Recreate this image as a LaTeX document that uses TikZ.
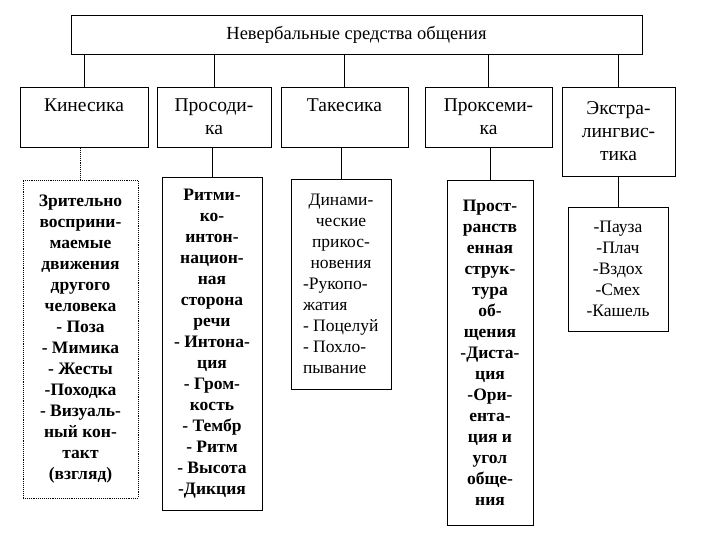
\documentclass[tikz,border=0pt]{standalone}
\usepackage{fontspec}
\setmainfont{Liberation Serif}

\begin{document}
\begin{tikzpicture}[x=1pt,y=-1pt,line width=0.9pt,
  box/.style={draw,inner sep=0pt,align=center},
  head/.style={box,font=\fontsize{19.5}{23}\selectfont},
  desc/.style={box,font=\bfseries\fontsize{17.5}{21}\selectfont}]
\useasboundingbox (0,0) rectangle (720,540);
% ---------- title ----------
\node[box,minimum width=571,minimum height=39,font=\fontsize{18.5}{21}\selectfont]
  (top) at (356.5,34.5) {Невербальные средства общения};
% ---------- sections ----------
\node[head,minimum width=128,minimum height=60] (kin) at (84,117) {Кинесика\\\mbox{}};
\node[head,minimum width=114,minimum height=60] (pro) at (214,117) {Просоди-\\ка};
\node[head,minimum width=127,minimum height=60] (tak) at (344.5,117) {Такесика\\\mbox{}};
\node[head,minimum width=127,minimum height=60] (prk) at (488.5,117) {Проксеми-\\ка};
\node[head,minimum width=113,minimum height=89] (ext) at (618.5,131.5) {Экстра-\\лингвис-\\тика};
\foreach \n in {kin,pro,tak,prk,ext}
  \draw (\n.north) -- (\n.north |- top.south);
% ---------- contents ----------
\node[desc,densely dotted,minimum width=115,minimum height=318] (kind) at (80.5,339)
  {Зрительно\\восприни-\\маемые\\движения\\другого\\человека\\- Поза\\-  Мимика\\- Жесты\\-Походка\\- Визуаль-\\ный кон-\\такт\\(взгляд)};
\node[desc,minimum width=100,minimum height=333] (prod) at (212,343.5)
  {Ритми-\\ко-\\интон-\\национ-\\ная\\сторона\\речи\\- Интона-\\ция\\- Гром-\\кость\\- Тембр\\- Ритм\\- Высота\\-Дикция};
\node[box,align=none,font=\fontsize{17.5}{21}\selectfont,text width=76,inner xsep=12,
  minimum height=210] (takd) at (341,284)
  {\parindent=0pt\centering Динами-\\ческие\\прикос-\\новения\par
   \raggedright -Рукопо-\\жатия\\- Поцелуй\\- Похло-\\пывание};
\node[desc,minimum width=86,minimum height=345] (prkd) at (490,352.5)
  {Прост-\\ранств\\енная\\струк-\\тура\\об-\\щения\\-Диста-\\ция\\-Ори-\\ента-\\ция и\\угол\\обще-\\ния};
\node[box,font=\fontsize{17.5}{21}\selectfont,minimum width=100,minimum height=124] (extd) at (618,269)
  {-Пауза\\-Плач\\-Вздох\\-Смех\\-Кашель};
\draw[densely dotted] (kind.north) -- (kind.north |- kin.south);
\foreach \n in {pro,tak,prk,ext}
  \draw (\n d.north) -- (\n d.north |- \n.south);
\end{tikzpicture}
\end{document}
